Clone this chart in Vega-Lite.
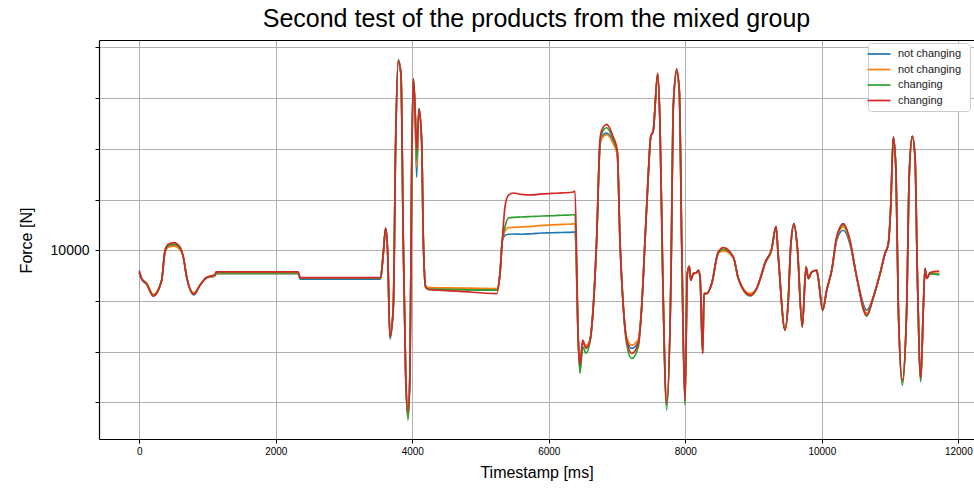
{
  "$schema": "https://vega.github.io/schema/vega-lite/v6.json",
  "width": 875,
  "height": 399,
  "autosize": {"type": "none"},
  "padding": {"left": 99, "top": 40, "right": 0, "bottom": 49},
  "background": "white",
  "title": {"text": "Second test of the products from the mixed group", "fontSize": 25, "font": "Liberation Sans", "fontWeight": "normal", "color": "black", "anchor": "middle", "offset": 8},
  "config": {"view": {"stroke": null}, "font": "Liberation Sans"},
  "datasets": {
    "main": [
      {"t":0,"s":"a","v":9550},{"t":35,"s":"a","v":9430},{"t":108,"s":"a","v":9330},{"t":205,"s":"a","v":9110},{"t":328,"s":"a","v":9409},{"t":377,"s":"a","v":9970},{"t":425,"s":"a","v":10080},{"t":508,"s":"a","v":10100},{"t":596,"s":"a","v":10030},{"t":645,"s":"a","v":9869},{"t":694,"s":"a","v":9475},{"t":801,"s":"a","v":9120},{"t":889,"s":"a","v":9311},{"t":987,"s":"a","v":9462},{"t":1084,"s":"a","v":9480},{"t":1110,"s":"a","v":9500},{"t":1124,"s":"a","v":9540},{"t":2330,"s":"a","v":9540},{"t":2355,"s":"a","v":9430},{"t":3525,"s":"a","v":9430},{"t":3537,"s":"a","v":9450},{"t":3575,"s":"a","v":9935},{"t":3610,"s":"a","v":10439},{"t":3640,"s":"a","v":9935},{"t":3673,"s":"a","v":8250},{"t":3722,"s":"a","v":8884},{"t":3757,"s":"a","v":12165},{"t":3795,"s":"a","v":13700},{"t":3834,"s":"a","v":13478},{"t":3868,"s":"a","v":10197},{"t":3903,"s":"a","v":7573},{"t":3937,"s":"a","v":6720},{"t":3966,"s":"a","v":7580},{"t":3991,"s":"a","v":11516},{"t":4015,"s":"a","v":13380},{"t":4040,"s":"a","v":12821},{"t":4064,"s":"a","v":11443},{"t":4098,"s":"a","v":12789},{"t":4137,"s":"a","v":12165},{"t":4162,"s":"a","v":10197},{"t":4196,"s":"a","v":9278},{"t":4235,"s":"a","v":9240},{"t":4700,"s":"a","v":9230},{"t":5237,"s":"a","v":9213},{"t":5285,"s":"a","v":9541},{"t":5319,"s":"a","v":10197},{"t":5358,"s":"a","v":10295},{"t":5407,"s":"a","v":10315},{"t":5481,"s":"a","v":10320},{"t":5600,"s":"a","v":10315},{"t":5750,"s":"a","v":10325},{"t":5900,"s":"a","v":10340},{"t":6050,"s":"a","v":10345},{"t":6200,"s":"a","v":10350},{"t":6359,"s":"a","v":10358},{"t":6384,"s":"a","v":10361},{"t":6432,"s":"a","v":8228},{"t":6457,"s":"a","v":7650},{"t":6497,"s":"a","v":8180},{"t":6545,"s":"a","v":8100},{"t":6604,"s":"a","v":8228},{"t":6652,"s":"a","v":8884},{"t":6701,"s":"a","v":10197},{"t":6750,"s":"a","v":12080},{"t":6775,"s":"a","v":12230},{"t":6848,"s":"a","v":12310},{"t":6945,"s":"a","v":12130},{"t":7004,"s":"a","v":11900},{"t":7043,"s":"a","v":10197},{"t":7092,"s":"a","v":8884},{"t":7141,"s":"a","v":8250},{"t":7215,"s":"a","v":8065},{"t":7312,"s":"a","v":8200},{"t":7361,"s":"a","v":8884},{"t":7410,"s":"a","v":10197},{"t":7458,"s":"a","v":11450},{"t":7493,"s":"a","v":12231},{"t":7531,"s":"a","v":12362},{"t":7595,"s":"a","v":13460},{"t":7629,"s":"a","v":12494},{"t":7669,"s":"a","v":9541},{"t":7727,"s":"a","v":6950},{"t":7791,"s":"a","v":9541},{"t":7824,"s":"a","v":12821},{"t":7874,"s":"a","v":13500},{"t":7912,"s":"a","v":13150},{"t":7947,"s":"a","v":10197},{"t":7995,"s":"a","v":7020},{"t":8030,"s":"a","v":9541},{"t":8059,"s":"a","v":9685},{"t":8080,"s":"a","v":9409},{"t":8118,"s":"a","v":9541},{"t":8167,"s":"a","v":9561},{"t":8191,"s":"a","v":9606},{"t":8216,"s":"a","v":9475},{"t":8255,"s":"a","v":7966},{"t":8274,"s":"a","v":9147},{"t":8314,"s":"a","v":9147},{"t":8387,"s":"a","v":9344},{"t":8484,"s":"a","v":9967},{"t":8557,"s":"a","v":10000},{"t":8704,"s":"a","v":9869},{"t":8777,"s":"a","v":9443},{"t":8948,"s":"a","v":9130},{"t":9046,"s":"a","v":9246},{"t":9120,"s":"a","v":9541},{"t":9168,"s":"a","v":9751},{"t":9266,"s":"a","v":10033},{"t":9329,"s":"a","v":10472},{"t":9363,"s":"a","v":9869},{"t":9461,"s":"a","v":8440},{"t":9509,"s":"a","v":9016},{"t":9544,"s":"a","v":10065},{"t":9593,"s":"a","v":10525},{"t":9641,"s":"a","v":10065},{"t":9714,"s":"a","v":8491},{"t":9769,"s":"a","v":9672},{"t":9803,"s":"a","v":9443},{"t":9852,"s":"a","v":9573},{"t":9925,"s":"a","v":9606},{"t":9949,"s":"a","v":9443},{"t":10013,"s":"a","v":8819},{"t":10072,"s":"a","v":9213},{"t":10145,"s":"a","v":9606},{"t":10218,"s":"a","v":10200},{"t":10315,"s":"a","v":10394},{"t":10413,"s":"a","v":10120},{"t":10511,"s":"a","v":9475},{"t":10658,"s":"a","v":8820},{"t":10755,"s":"a","v":9081},{"t":10853,"s":"a","v":9541},{"t":10926,"s":"a","v":9935},{"t":10975,"s":"a","v":10131},{"t":11010,"s":"a","v":10853},{"t":11048,"s":"a","v":12231},{"t":11088,"s":"a","v":11510},{"t":11121,"s":"a","v":8884},{"t":11180,"s":"a","v":7400},{"t":11244,"s":"a","v":8884},{"t":11282,"s":"a","v":11510},{"t":11326,"s":"a","v":12244},{"t":11366,"s":"a","v":11837},{"t":11400,"s":"a","v":9541},{"t":11450,"s":"a","v":7460},{"t":11488,"s":"a","v":8884},{"t":11512,"s":"a","v":9640},{"t":11537,"s":"a","v":9443},{"t":11585,"s":"a","v":9540},{"t":11721,"s":"a","v":9521},

      {"t":0,"s":"b","v":9560},{"t":35,"s":"b","v":9440},{"t":108,"s":"b","v":9350},{"t":205,"s":"b","v":9130},{"t":328,"s":"b","v":9409},{"t":377,"s":"b","v":9950},{"t":425,"s":"b","v":10060},{"t":508,"s":"b","v":10080},{"t":596,"s":"b","v":10010},{"t":645,"s":"b","v":9869},{"t":694,"s":"b","v":9475},{"t":801,"s":"b","v":9160},{"t":889,"s":"b","v":9311},{"t":987,"s":"b","v":9462},{"t":1084,"s":"b","v":9490},{"t":1110,"s":"b","v":9505},{"t":1124,"s":"b","v":9545},{"t":2330,"s":"b","v":9545},{"t":2355,"s":"b","v":9450},{"t":3525,"s":"b","v":9450},{"t":3537,"s":"b","v":9460},{"t":3575,"s":"b","v":9935},{"t":3610,"s":"b","v":10439},{"t":3640,"s":"b","v":9935},{"t":3673,"s":"b","v":8294},{"t":3722,"s":"b","v":8884},{"t":3757,"s":"b","v":12165},{"t":3795,"s":"b","v":13720},{"t":3834,"s":"b","v":13478},{"t":3868,"s":"b","v":10197},{"t":3903,"s":"b","v":7573},{"t":3937,"s":"b","v":6750},{"t":3966,"s":"b","v":7580},{"t":3991,"s":"b","v":11516},{"t":4015,"s":"b","v":13380},{"t":4040,"s":"b","v":12821},{"t":4064,"s":"b","v":11640},{"t":4098,"s":"b","v":12789},{"t":4137,"s":"b","v":12165},{"t":4162,"s":"b","v":10197},{"t":4196,"s":"b","v":9300},{"t":4235,"s":"b","v":9265},{"t":4700,"s":"b","v":9255},{"t":5237,"s":"b","v":9246},{"t":5285,"s":"b","v":9541},{"t":5319,"s":"b","v":10197},{"t":5358,"s":"b","v":10380},{"t":5407,"s":"b","v":10446},{"t":5481,"s":"b","v":10450},{"t":5600,"s":"b","v":10460},{"t":5750,"s":"b","v":10470},{"t":5900,"s":"b","v":10490},{"t":6050,"s":"b","v":10500},{"t":6200,"s":"b","v":10510},{"t":6359,"s":"b","v":10520},{"t":6384,"s":"b","v":10525},{"t":6432,"s":"b","v":8228},{"t":6457,"s":"b","v":7700},{"t":6497,"s":"b","v":8200},{"t":6545,"s":"b","v":8120},{"t":6604,"s":"b","v":8228},{"t":6652,"s":"b","v":8884},{"t":6701,"s":"b","v":10197},{"t":6750,"s":"b","v":12050},{"t":6775,"s":"b","v":12200},{"t":6848,"s":"b","v":12277},{"t":6945,"s":"b","v":12100},{"t":7004,"s":"b","v":11880},{"t":7043,"s":"b","v":10197},{"t":7092,"s":"b","v":8884},{"t":7141,"s":"b","v":8280},{"t":7215,"s":"b","v":8130},{"t":7312,"s":"b","v":8250},{"t":7361,"s":"b","v":8884},{"t":7410,"s":"b","v":10197},{"t":7458,"s":"b","v":11480},{"t":7493,"s":"b","v":12231},{"t":7531,"s":"b","v":12362},{"t":7595,"s":"b","v":13440},{"t":7629,"s":"b","v":12494},{"t":7669,"s":"b","v":9541},{"t":7727,"s":"b","v":7050},{"t":7791,"s":"b","v":9541},{"t":7824,"s":"b","v":12821},{"t":7874,"s":"b","v":13480},{"t":7912,"s":"b","v":13150},{"t":7947,"s":"b","v":10197},{"t":7995,"s":"b","v":7050},{"t":8030,"s":"b","v":9541},{"t":8059,"s":"b","v":9685},{"t":8080,"s":"b","v":9409},{"t":8118,"s":"b","v":9541},{"t":8167,"s":"b","v":9561},{"t":8191,"s":"b","v":9606},{"t":8216,"s":"b","v":9475},{"t":8255,"s":"b","v":7966},{"t":8274,"s":"b","v":9147},{"t":8314,"s":"b","v":9147},{"t":8387,"s":"b","v":9330},{"t":8484,"s":"b","v":9940},{"t":8557,"s":"b","v":9987},{"t":8704,"s":"b","v":9850},{"t":8777,"s":"b","v":9443},{"t":8948,"s":"b","v":9150},{"t":9046,"s":"b","v":9246},{"t":9120,"s":"b","v":9520},{"t":9168,"s":"b","v":9730},{"t":9266,"s":"b","v":10010},{"t":9329,"s":"b","v":10450},{"t":9363,"s":"b","v":9869},{"t":9461,"s":"b","v":8460},{"t":9509,"s":"b","v":9016},{"t":9544,"s":"b","v":10065},{"t":9593,"s":"b","v":10500},{"t":9641,"s":"b","v":10065},{"t":9714,"s":"b","v":8491},{"t":9769,"s":"b","v":9672},{"t":9803,"s":"b","v":9443},{"t":9852,"s":"b","v":9573},{"t":9925,"s":"b","v":9606},{"t":9949,"s":"b","v":9443},{"t":10013,"s":"b","v":8819},{"t":10072,"s":"b","v":9213},{"t":10145,"s":"b","v":9590},{"t":10218,"s":"b","v":10230},{"t":10315,"s":"b","v":10460},{"t":10413,"s":"b","v":10150},{"t":10511,"s":"b","v":9475},{"t":10658,"s":"b","v":8760},{"t":10755,"s":"b","v":9081},{"t":10853,"s":"b","v":9520},{"t":10926,"s":"b","v":9935},{"t":10975,"s":"b","v":10131},{"t":11010,"s":"b","v":10853},{"t":11048,"s":"b","v":12231},{"t":11088,"s":"b","v":11510},{"t":11121,"s":"b","v":8884},{"t":11180,"s":"b","v":7420},{"t":11244,"s":"b","v":8884},{"t":11282,"s":"b","v":11510},{"t":11326,"s":"b","v":12244},{"t":11366,"s":"b","v":11837},{"t":11400,"s":"b","v":9541},{"t":11450,"s":"b","v":7470},{"t":11488,"s":"b","v":8884},{"t":11512,"s":"b","v":9640},{"t":11537,"s":"b","v":9443},{"t":11585,"s":"b","v":9550},{"t":11721,"s":"b","v":9541},

      {"t":0,"s":"c","v":9560},{"t":35,"s":"c","v":9440},{"t":108,"s":"c","v":9330},{"t":205,"s":"c","v":9110},{"t":328,"s":"c","v":9409},{"t":377,"s":"c","v":9980},{"t":425,"s":"c","v":10090},{"t":508,"s":"c","v":10120},{"t":596,"s":"c","v":10040},{"t":645,"s":"c","v":9869},{"t":694,"s":"c","v":9475},{"t":801,"s":"c","v":9134},{"t":889,"s":"c","v":9311},{"t":987,"s":"c","v":9462},{"t":1084,"s":"c","v":9500},{"t":1110,"s":"c","v":9510},{"t":1124,"s":"c","v":9555},{"t":2330,"s":"c","v":9555},{"t":2355,"s":"c","v":9455},{"t":3525,"s":"c","v":9455},{"t":3537,"s":"c","v":9465},{"t":3575,"s":"c","v":9935},{"t":3610,"s":"c","v":10439},{"t":3640,"s":"c","v":9935},{"t":3673,"s":"c","v":8294},{"t":3722,"s":"c","v":8884},{"t":3757,"s":"c","v":12165},{"t":3795,"s":"c","v":13760},{"t":3834,"s":"c","v":13478},{"t":3868,"s":"c","v":10197},{"t":3903,"s":"c","v":7573},{"t":3937,"s":"c","v":6653},{"t":3966,"s":"c","v":7580},{"t":3991,"s":"c","v":11516},{"t":4015,"s":"c","v":13380},{"t":4040,"s":"c","v":12821},{"t":4064,"s":"c","v":11772},{"t":4098,"s":"c","v":12789},{"t":4137,"s":"c","v":12165},{"t":4162,"s":"c","v":10197},{"t":4196,"s":"c","v":9270},{"t":4235,"s":"c","v":9230},{"t":4700,"s":"c","v":9225},{"t":5237,"s":"c","v":9213},{"t":5285,"s":"c","v":9541},{"t":5319,"s":"c","v":10197},{"t":5358,"s":"c","v":10459},{"t":5407,"s":"c","v":10636},{"t":5481,"s":"c","v":10650},{"t":5600,"s":"c","v":10655},{"t":5750,"s":"c","v":10665},{"t":5900,"s":"c","v":10675},{"t":6050,"s":"c","v":10680},{"t":6200,"s":"c","v":10690},{"t":6359,"s":"c","v":10700},{"t":6384,"s":"c","v":10702},{"t":6432,"s":"c","v":8228},{"t":6457,"s":"c","v":7573},{"t":6497,"s":"c","v":8100},{"t":6545,"s":"c","v":7970},{"t":6604,"s":"c","v":8200},{"t":6652,"s":"c","v":8884},{"t":6701,"s":"c","v":10197},{"t":6750,"s":"c","v":12100},{"t":6775,"s":"c","v":12300},{"t":6848,"s":"c","v":12415},{"t":6945,"s":"c","v":12180},{"t":7004,"s":"c","v":11930},{"t":7043,"s":"c","v":10197},{"t":7092,"s":"c","v":8884},{"t":7141,"s":"c","v":8150},{"t":7215,"s":"c","v":7868},{"t":7312,"s":"c","v":8100},{"t":7361,"s":"c","v":8884},{"t":7410,"s":"c","v":10197},{"t":7458,"s":"c","v":11510},{"t":7493,"s":"c","v":12231},{"t":7531,"s":"c","v":12362},{"t":7595,"s":"c","v":13480},{"t":7629,"s":"c","v":12494},{"t":7669,"s":"c","v":9541},{"t":7727,"s":"c","v":6850},{"t":7791,"s":"c","v":9541},{"t":7824,"s":"c","v":12821},{"t":7874,"s":"c","v":13540},{"t":7912,"s":"c","v":13150},{"t":7947,"s":"c","v":10197},{"t":7995,"s":"c","v":6949},{"t":8030,"s":"c","v":9541},{"t":8059,"s":"c","v":9685},{"t":8080,"s":"c","v":9409},{"t":8118,"s":"c","v":9541},{"t":8167,"s":"c","v":9561},{"t":8191,"s":"c","v":9606},{"t":8216,"s":"c","v":9475},{"t":8255,"s":"c","v":7966},{"t":8274,"s":"c","v":9147},{"t":8314,"s":"c","v":9147},{"t":8387,"s":"c","v":9335},{"t":8484,"s":"c","v":9955},{"t":8557,"s":"c","v":10020},{"t":8704,"s":"c","v":9860},{"t":8777,"s":"c","v":9443},{"t":8948,"s":"c","v":9100},{"t":9046,"s":"c","v":9246},{"t":9120,"s":"c","v":9530},{"t":9168,"s":"c","v":9740},{"t":9266,"s":"c","v":10020},{"t":9329,"s":"c","v":10460},{"t":9363,"s":"c","v":9869},{"t":9461,"s":"c","v":8425},{"t":9509,"s":"c","v":9016},{"t":9544,"s":"c","v":10065},{"t":9593,"s":"c","v":10515},{"t":9641,"s":"c","v":10065},{"t":9714,"s":"c","v":8491},{"t":9769,"s":"c","v":9672},{"t":9803,"s":"c","v":9443},{"t":9852,"s":"c","v":9573},{"t":9925,"s":"c","v":9606},{"t":9949,"s":"c","v":9443},{"t":10013,"s":"c","v":8819},{"t":10072,"s":"c","v":9213},{"t":10145,"s":"c","v":9600},{"t":10218,"s":"c","v":10240},{"t":10315,"s":"c","v":10500},{"t":10413,"s":"c","v":10180},{"t":10511,"s":"c","v":9475},{"t":10658,"s":"c","v":8700},{"t":10755,"s":"c","v":9060},{"t":10853,"s":"c","v":9530},{"t":10926,"s":"c","v":9935},{"t":10975,"s":"c","v":10131},{"t":11010,"s":"c","v":10853},{"t":11048,"s":"c","v":12231},{"t":11088,"s":"c","v":11510},{"t":11121,"s":"c","v":8884},{"t":11180,"s":"c","v":7343},{"t":11244,"s":"c","v":8884},{"t":11282,"s":"c","v":11510},{"t":11326,"s":"c","v":12244},{"t":11366,"s":"c","v":11837},{"t":11400,"s":"c","v":9541},{"t":11450,"s":"c","v":7408},{"t":11488,"s":"c","v":8884},{"t":11512,"s":"c","v":9640},{"t":11537,"s":"c","v":9443},{"t":11585,"s":"c","v":9540},{"t":11721,"s":"c","v":9521},

      {"t":0,"s":"d","v":9600},{"t":35,"s":"d","v":9443},{"t":108,"s":"d","v":9344},{"t":205,"s":"d","v":9094},{"t":328,"s":"d","v":9409},{"t":377,"s":"d","v":10000},{"t":425,"s":"d","v":10118},{"t":508,"s":"d","v":10151},{"t":596,"s":"d","v":10065},{"t":645,"s":"d","v":9869},{"t":694,"s":"d","v":9475},{"t":801,"s":"d","v":9134},{"t":889,"s":"d","v":9311},{"t":987,"s":"d","v":9462},{"t":1084,"s":"d","v":9508},{"t":1110,"s":"d","v":9520},{"t":1124,"s":"d","v":9573},{"t":2330,"s":"d","v":9573},{"t":2355,"s":"d","v":9462},{"t":3525,"s":"d","v":9462},{"t":3537,"s":"d","v":9470},{"t":3575,"s":"d","v":9935},{"t":3610,"s":"d","v":10439},{"t":3640,"s":"d","v":9935},{"t":3673,"s":"d","v":8294},{"t":3722,"s":"d","v":8884},{"t":3757,"s":"d","v":12165},{"t":3795,"s":"d","v":13740},{"t":3834,"s":"d","v":13478},{"t":3868,"s":"d","v":10197},{"t":3903,"s":"d","v":7573},{"t":3937,"s":"d","v":6817},{"t":3966,"s":"d","v":7580},{"t":3991,"s":"d","v":11516},{"t":4015,"s":"d","v":13380},{"t":4040,"s":"d","v":12821},{"t":4064,"s":"d","v":11969},{"t":4098,"s":"d","v":12789},{"t":4137,"s":"d","v":12165},{"t":4162,"s":"d","v":10197},{"t":4196,"s":"d","v":9278},{"t":4235,"s":"d","v":9226},{"t":4700,"s":"d","v":9190},{"t":5237,"s":"d","v":9147},{"t":5285,"s":"d","v":9541},{"t":5319,"s":"d","v":10197},{"t":5358,"s":"d","v":10853},{"t":5407,"s":"d","v":11083},{"t":5481,"s":"d","v":11128},{"t":5600,"s":"d","v":11100},{"t":5750,"s":"d","v":11090},{"t":5900,"s":"d","v":11110},{"t":6050,"s":"d","v":11120},{"t":6200,"s":"d","v":11130},{"t":6359,"s":"d","v":11148},{"t":6384,"s":"d","v":11168},{"t":6432,"s":"d","v":8228},{"t":6457,"s":"d","v":7736},{"t":6497,"s":"d","v":8228},{"t":6545,"s":"d","v":8065},{"t":6604,"s":"d","v":8228},{"t":6652,"s":"d","v":8884},{"t":6701,"s":"d","v":10197},{"t":6750,"s":"d","v":12165},{"t":6775,"s":"d","v":12362},{"t":6848,"s":"d","v":12480},{"t":6945,"s":"d","v":12231},{"t":7004,"s":"d","v":11969},{"t":7043,"s":"d","v":10197},{"t":7092,"s":"d","v":8884},{"t":7141,"s":"d","v":8228},{"t":7215,"s":"d","v":7966},{"t":7312,"s":"d","v":8163},{"t":7361,"s":"d","v":8884},{"t":7410,"s":"d","v":10197},{"t":7458,"s":"d","v":11510},{"t":7493,"s":"d","v":12231},{"t":7531,"s":"d","v":12362},{"t":7595,"s":"d","v":13490},{"t":7629,"s":"d","v":12494},{"t":7669,"s":"d","v":9541},{"t":7727,"s":"d","v":6982},{"t":7791,"s":"d","v":9541},{"t":7824,"s":"d","v":12821},{"t":7874,"s":"d","v":13576},{"t":7912,"s":"d","v":13150},{"t":7947,"s":"d","v":10197},{"t":7995,"s":"d","v":7047},{"t":8030,"s":"d","v":9541},{"t":8059,"s":"d","v":9685},{"t":8080,"s":"d","v":9409},{"t":8118,"s":"d","v":9541},{"t":8167,"s":"d","v":9561},{"t":8191,"s":"d","v":9606},{"t":8216,"s":"d","v":9475},{"t":8255,"s":"d","v":7966},{"t":8274,"s":"d","v":9147},{"t":8314,"s":"d","v":9147},{"t":8387,"s":"d","v":9344},{"t":8484,"s":"d","v":9967},{"t":8557,"s":"d","v":10053},{"t":8704,"s":"d","v":9869},{"t":8777,"s":"d","v":9443},{"t":8948,"s":"d","v":9114},{"t":9046,"s":"d","v":9246},{"t":9120,"s":"d","v":9541},{"t":9168,"s":"d","v":9751},{"t":9266,"s":"d","v":10033},{"t":9329,"s":"d","v":10472},{"t":9363,"s":"d","v":9869},{"t":9461,"s":"d","v":8425},{"t":9509,"s":"d","v":9016},{"t":9544,"s":"d","v":10065},{"t":9593,"s":"d","v":10525},{"t":9641,"s":"d","v":10065},{"t":9714,"s":"d","v":8491},{"t":9769,"s":"d","v":9672},{"t":9803,"s":"d","v":9443},{"t":9852,"s":"d","v":9573},{"t":9925,"s":"d","v":9606},{"t":9949,"s":"d","v":9443},{"t":10013,"s":"d","v":8819},{"t":10072,"s":"d","v":9213},{"t":10145,"s":"d","v":9606},{"t":10218,"s":"d","v":10262},{"t":10315,"s":"d","v":10525},{"t":10413,"s":"d","v":10197},{"t":10511,"s":"d","v":9475},{"t":10658,"s":"d","v":8720},{"t":10755,"s":"d","v":9081},{"t":10853,"s":"d","v":9541},{"t":10926,"s":"d","v":9935},{"t":10975,"s":"d","v":10131},{"t":11010,"s":"d","v":10853},{"t":11048,"s":"d","v":12231},{"t":11088,"s":"d","v":11510},{"t":11121,"s":"d","v":8884},{"t":11180,"s":"d","v":7441},{"t":11244,"s":"d","v":8884},{"t":11282,"s":"d","v":11510},{"t":11326,"s":"d","v":12244},{"t":11366,"s":"d","v":11837},{"t":11400,"s":"d","v":9541},{"t":11450,"s":"d","v":7474},{"t":11488,"s":"d","v":8884},{"t":11512,"s":"d","v":9640},{"t":11537,"s":"d","v":9443},{"t":11585,"s":"d","v":9561},{"t":11721,"s":"d","v":9587}
    ]
  },
  "data": {"name": "main"},
  "layer": [
    {
      "mark": {"type": "line", "strokeWidth": 1.7, "interpolate": "monotone"},
      "encoding": {
        "x": {
          "field": "t", "type": "quantitative",
          "scale": {"domain": [-590, 12230], "nice": false, "zero": false},
          "axis": {"values": [0, 2000, 4000, 6000, 8000, 10000, 12000], "format": "d", "title": "Timestamp [ms]", "titleFontSize": 16, "titleFontWeight": "normal", "titleColor": "black", "titlePadding": 8, "labelFontSize": 10, "labelColor": "black", "labelPadding": 3, "domainColor": "black", "domainWidth": 1.2, "tickColor": "black", "tickSize": 4, "gridColor": "#b0b0b0", "gridWidth": 1}
        },
        "y": {
          "field": "v", "type": "quantitative",
          "scale": {"domain": [6280, 14144], "nice": false, "zero": false},
          "axis": {"values": [7000, 8000, 9000, 10000, 11000, 12000, 13000, 14000], "labelExpr": "datum.value == 10000 ? '10000' : ''", "title": "Force [N]", "titleFontSize": 16, "titleFontWeight": "normal", "titleColor": "black", "titleX": -68, "titleY": 200, "titleBaseline": "alphabetic", "labelFontSize": 14, "labelColor": "black", "labelPadding": 6, "domainColor": "black", "domainWidth": 1.2, "tickColor": "black", "tickSize": 4, "gridColor": "#b0b0b0", "gridWidth": 1}
        },
        "color": {
          "field": "s", "type": "nominal",
          "scale": {"domain": ["a", "b", "c", "d"], "range": ["#1f77b4", "#ff7f0e", "#2ca02c", "#d62728"]},
          "legend": {"orient": "none", "legendX": 769, "legendY": 3, "title": null, "labelExpr": "datum.value == 'a' ? 'not changing' : datum.value == 'b' ? 'not  changing' : 'changing'", "labelFontSize": 11, "labelColor": "#222222", "symbolType": "M-2.3,0H2.3", "symbolSize": 100, "symbolStrokeWidth": 1.7, "labelOffset": 13, "rowPadding": 4.5, "padding": 5, "fillColor": "white", "strokeColor": "#cccccc", "cornerRadius": 3}
        }
      }
    },
    {
      "mark": {"type": "line", "opacity": 0},
      "encoding": {
        "x": {"field": "t", "type": "quantitative", "scale": {"domain": [-590, 12230], "nice": false, "zero": false}, "axis": {"orient": "top", "labels": false, "ticks": false, "grid": false, "domainColor": "black", "domainWidth": 1.2, "title": null}},
        "y": {"field": "v", "type": "quantitative", "scale": {"domain": [6280, 14144], "nice": false, "zero": false}, "axis": null}
      }
    }
  ],
  "resolve": {"axis": {"x": "independent", "y": "independent"}}
}
